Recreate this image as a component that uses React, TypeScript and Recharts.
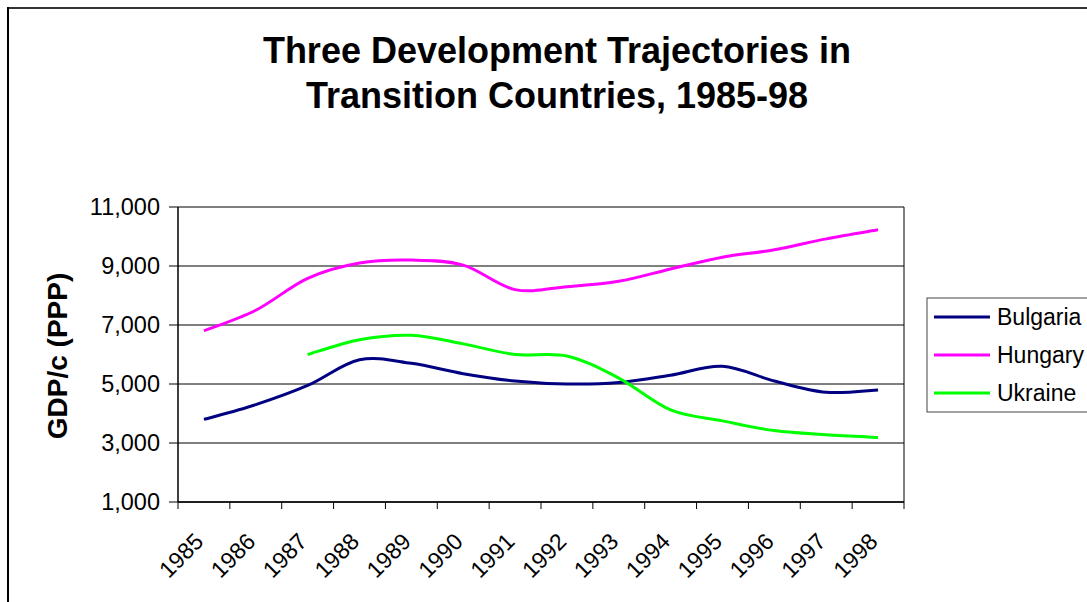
import React from 'react';
import { LineChart, Line, XAxis, YAxis, CartesianGrid, ReferenceLine } from 'recharts';

const years = ['1985', '1986', '1987', '1988', '1989', '1990', '1991', '1992', '1993', '1994', '1995', '1996', '1997', '1998'];
const bulgaria = [3800, 4300, 4950, 5820, 5700, 5350, 5100, 5000, 5050, 5300, 5600, 5100, 4720, 4800];
const hungary = [6800, 7500, 8580, 9100, 9200, 9030, 8200, 8300, 8480, 8900, 9300, 9550, 9920, 10230];
const ukraine = [null, null, 6000, 6500, 6650, 6360, 6000, 5950, 5200, 4120, 3750, 3420, 3280, 3190];
const yTicks = [1000, 3000, 5000, 7000, 9000, 11000];
const seriesNames = ['Bulgaria', 'Hungary', 'Ukraine'];
const seriesColors = ['#000080', '#FF00FF', '#00FF00'];
const titleLines = ['Three Development Trajectories in', 'Transition Countries, 1985-98'];
const yLabel = 'GDP/c (PPP)';

const data = years.map((year, i) => ({
  pos: i + 0.5,
  year,
  Bulgaria: bulgaria[i],
  Hungary: hungary[i],
  Ukraine: ukraine[i],
}));

const W = 1087;
const H = 602;
const PLOT_L = 178;
const PLOT_R = 904;
const PLOT_T = 207;
const PLOT_B = 502;
const HALF = (PLOT_R - PLOT_L) / years.length / 2;
const FONT = '"Liberation Sans", Arial, Helvetica, sans-serif';

// Excel-like smoothed line (uniform Catmull-Rom as cubic Bezier)
function excelCurve(context: any) {
  let pts: number[][] = [];
  return {
    areaStart() {},
    areaEnd() {},
    lineStart() {
      pts = [];
    },
    point(x: number, y: number) {
      pts.push([+x, +y]);
    },
    lineEnd() {
      const n = pts.length;
      if (!n) return;
      context.moveTo(pts[0][0], pts[0][1]);
      for (let i = 0; i < n - 1; i++) {
        const p0 = pts[i - 1] || pts[i];
        const p1 = pts[i];
        const p2 = pts[i + 1];
        const p3 = pts[i + 2] || p2;
        const c1x = p1[0] + (p2[0] - p0[0]) / 6;
        const c1y = p1[1] + (p2[1] - p0[1]) / 6;
        const c2x = p2[0] - (p3[0] - p1[0]) / 6;
        const c2y = p2[1] - (p3[1] - p1[1]) / 6;
        context.bezierCurveTo(c1x, c1y, c2x, c2y, p2[0], p2[1]);
      }
    },
  };
}

const XTick = (props: any) => {
  const { x, payload } = props;
  const i = payload.value;
  if (i >= years.length) return <g />;
  const ax = x + HALF + 1;
  const ay = PLOT_B + 41;
  return (
    <text
      x={ax}
      y={ay}
      transform={`rotate(-45 ${ax} ${ay})`}
      textAnchor="end"
      fontSize={23}
      fontFamily={FONT}
      fill="#000"
    >
      {years[i]}
    </text>
  );
};

export default function App() {
  const xTicks = years.map((_, i) => i).concat([years.length]);
  return (
    <div style={{ position: 'absolute', left: 0, top: 0, width: W, height: H, overflow: 'hidden', background: '#fff' }}>
      <LineChart
        width={W}
        height={H}
        data={data}
        margin={{ top: PLOT_T, right: W - PLOT_R, bottom: 0, left: 0 }}
      >
        <CartesianGrid horizontal vertical={false} stroke="#000" strokeWidth={1} />
        <XAxis
          dataKey="pos"
          type="number"
          domain={[0, years.length]}
          ticks={xTicks}
          interval={0}
          height={H - PLOT_B}
          tickSize={7}
          tickLine={{ stroke: '#000' }}
          axisLine={{ stroke: '#000', strokeWidth: 1.5 }}
          tick={<XTick />}
          allowDataOverflow
        />
        <YAxis
          type="number"
          domain={[1000, 11000]}
          ticks={yTicks}
          interval={0}
          width={PLOT_L}
          tickSize={9}
          tickMargin={9}
          tickLine={{ stroke: '#000' }}
          axisLine={{ stroke: '#000', strokeWidth: 1.5 }}
          tick={{ fontSize: 23.5, fontFamily: FONT, fill: '#000' }}
          tickFormatter={(v: number) => v.toLocaleString('en-US')}
        />
        <ReferenceLine x={years.length} stroke="#000" strokeWidth={1} ifOverflow="visible" />
        {seriesNames.map((name, i) => (
          <Line
            key={name}
            dataKey={name}
            type={excelCurve as any}
            stroke={seriesColors[i]}
            strokeWidth={3}
            dot={false}
            activeDot={false}
            isAnimationActive={false}
            connectNulls={false}
          />
        ))}
      </LineChart>
      <svg
        width={W}
        height={H}
        style={{ position: 'absolute', left: 0, top: 0, pointerEvents: 'none' }}
      >
        <line x1={7} y1={8} x2={W} y2={8} stroke="#333" strokeWidth={2} />
        <line x1={8} y1={7} x2={8} y2={H} stroke="#000" strokeWidth={2} />
        {titleLines.map((t, i) => (
          <text
            key={t}
            x={557}
            y={63 + i * 45}
            textAnchor="middle"
            fontSize={36}
            fontWeight="bold"
            fontFamily={FONT}
            fill="#000"
          >
            {t}
          </text>
        ))}
        <text
          x={67}
          y={356}
          transform="rotate(-90 67 356)"
          textAnchor="middle"
          fontSize={28}
          fontWeight="bold"
          fontFamily={FONT}
          fill="#000"
        >
          {yLabel}
        </text>
        <rect x={927} y={298} width={200} height={114} fill="#fff" stroke="#444" strokeWidth={1} />
        {seriesNames.map((name, i) => (
          <g key={name}>
            <line x1={934} x2={990} y1={317 + 38 * i} y2={317 + 38 * i} stroke={seriesColors[i]} strokeWidth={3} />
            <text x={997} y={317 + 38 * i} dy="0.36em" fontSize={23} fontFamily={FONT} fill="#000">
              {name}
            </text>
          </g>
        ))}
      </svg>
    </div>
  );
}
